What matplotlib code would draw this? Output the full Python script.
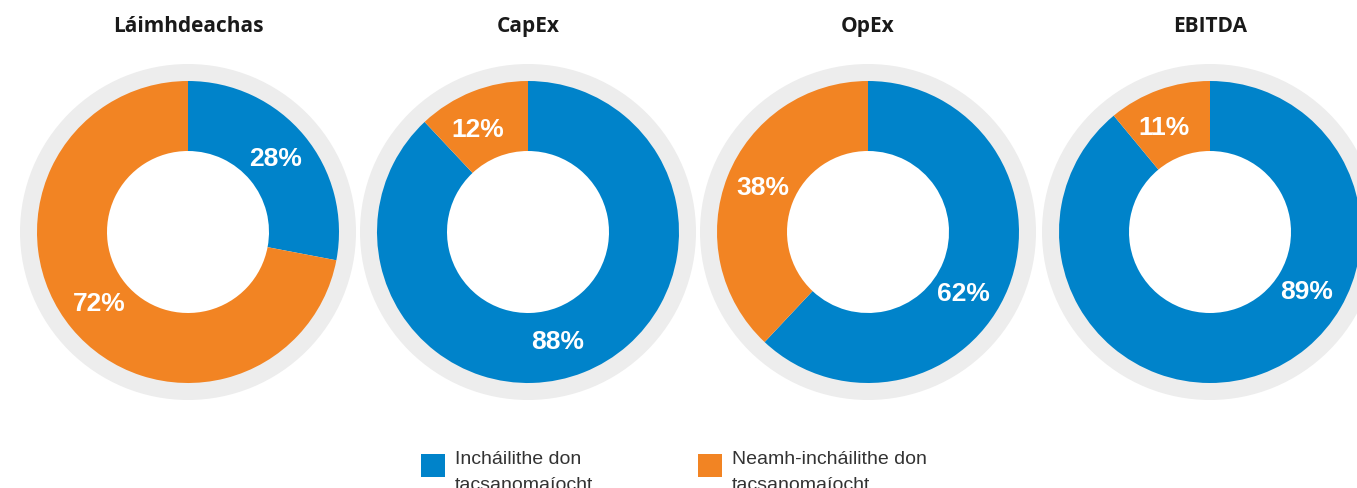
import matplotlib
matplotlib.use("Agg")
import matplotlib.pyplot as plt
import numpy as np
from matplotlib.patches import Rectangle, Wedge

# share of each metric aligned / not aligned with the taxonomy (%)
titles = ["Láimhdeachas", "CapEx", "OpEx", "EBITDA"]
eligible = [28, 88, 62, 89]
not_eligible = [72, 12, 38, 11]
legend_labels = [
    "Incháilithe don\ntacsanomaíocht",
    "Neamh-incháilithe don\ntacsanomaíocht",
]

BLUE = "#0083CA"
ORANGE = "#F28423"
RING = "#EDEDED"

# layout in pixels, y measured up from the bottom edge
W, H = 1357, 488
centers_x = [188, 528, 868, 1210]
center_y = H - 232
r_outer, r_inner, r_ring = 151, 81, 168
label_r = 114
# label directions (deg) for the [eligible, not eligible] wedges
label_angles = [(39.6, -141), (-75, 116), (-33, 157.5), (-32, 114)]
legend_x = [421, 698]

fig = plt.figure(figsize=(W / 100, H / 100), dpi=100)
ax = fig.add_axes([0, 0, 1, 1])

for i, cx in enumerate(centers_x):
    ax.add_patch(Wedge((cx, center_y), r_ring, 0, 360,
                       width=r_ring - r_outer + 1,
                       facecolor=RING, edgecolor="none"))
    ax.pie([eligible[i], not_eligible[i]], colors=[BLUE, ORANGE],
           startangle=90, counterclock=False,
           center=(cx, center_y), radius=r_outer,
           wedgeprops=dict(width=r_outer - r_inner, linewidth=0))
    for val, ang in zip((eligible[i], not_eligible[i]), label_angles[i]):
        t = np.deg2rad(ang)
        ax.text(cx + label_r * np.cos(t), center_y + label_r * np.sin(t),
                f"{val}%", ha="center", va="center", color="white",
                fontsize=19, fontweight="bold", family="Liberation Sans")
    ax.text(cx, H - 32, titles[i], ha="center", va="baseline",
            fontsize=15, fontweight="bold", family="Open Sans", color="#1a1a1a")

# legend: colour square plus a two-line label whose second line runs off the bottom
for x0, color, label in zip(legend_x, [BLUE, ORANGE], legend_labels):
    ax.add_patch(Rectangle((x0, H - 477), 24, 23, facecolor=color,
                           edgecolor="none"))
    for k, line in enumerate(label.split("\n")):
        ax.text(x0 + 34, H - 464 - 26 * k, line, ha="left", va="baseline",
                fontsize=14, family="Liberation Sans", color="#333333")

ax.set_xlim(0, W)
ax.set_ylim(0, H)
ax.set_aspect("equal")
ax.axis("off")

fig.savefig("out.png", dpi=100)
